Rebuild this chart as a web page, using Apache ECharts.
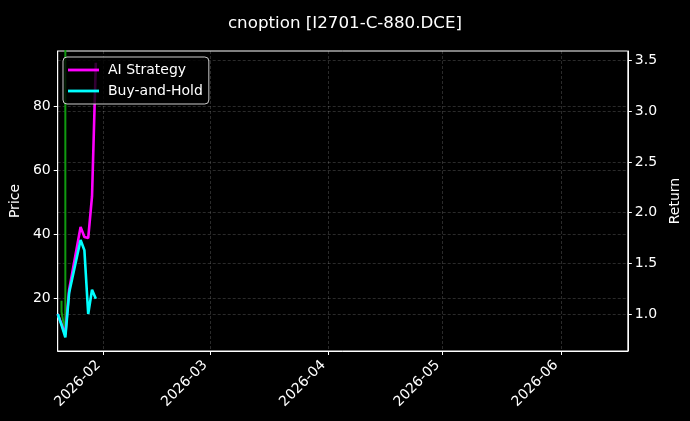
<!DOCTYPE html>
<html><head><meta charset="utf-8">
<script src="https://cdn.jsdelivr.net/npm/echarts@6/dist/echarts.min.js"></script>
<style>html,body{margin:0;padding:0;background:#000}#c{width:690px;height:421px}</style>
</head><body><div id="c"></div>
<script>
const dates = ['2026-01-20','2026-01-21','2026-01-22','2026-01-23','2026-01-26','2026-01-27','2026-01-28','2026-01-29','2026-01-30'];
const aiStrategy = [1.0, 0.90, 0.80, 1.24, 1.86, 1.76, 1.75, 2.16, 3.48];
const buyHold = [1.0, 0.89, 0.77, 1.21, 1.73, 1.63, 1.0, 1.24, 1.15];
const priceDates = ['2026-01-21','2026-01-21','2026-01-22','2026-01-22'];
const priceValues = [19.2, 15.8, 9.0, 250];
const xTickDates = ['2026-02-01','2026-03-01','2026-04-01','2026-05-01','2026-06-01'];
const xTickLabels = ['2026-02','2026-03','2026-04','2026-05','2026-06'];
const priceTicks = [20, 40, 60, 80];
const returnTicks = [1.0, 1.5, 2.0, 2.5, 3.0, 3.5];

const ts = s => Date.parse((s.length > 10 ? s : s + 'T00:00:00') + 'Z');
const xTickTs = xTickDates.map(ts);
const font = 'DejaVu Sans';
const gridLine = {show: true, lineStyle: {color: 'rgba(255,255,255,0.28)', type: [3, 2], width: 0.6}};
const tick = {show: true, length: 4, lineStyle: {color: '#fff', width: 1}};

const chart = echarts.init(document.getElementById('c'), null, {renderer: 'canvas'});
chart.setOption({
  backgroundColor: '#000',
  animation: false,
  textStyle: {fontFamily: font},
  title: {
    text: 'cnoption [I2701-C-880.DCE]', left: 'center', top: 10,
    textStyle: {color: '#fff', fontSize: 16.7, fontWeight: 'normal', fontFamily: font}
  },
  grid: {left: 57, right: 61, top: 51, bottom: 70, show: true, borderColor: '#fff', borderWidth: 1, backgroundColor: 'transparent'},
  legend: {
    data: ['AI Strategy', 'Buy-and-Hold'],
    orient: 'vertical', left: 63, top: 57,
    itemWidth: 31, itemHeight: 2.8, itemGap: 7, icon: 'rect',
    padding: [6, 6, 6, 5],
    backgroundColor: 'rgba(0,0,0,0.8)', borderColor: '#ccc', borderWidth: 1, borderRadius: 4,
    textStyle: {color: '#fff', fontSize: 14, fontFamily: font, padding: [0, 0, 0, 4]}
  },
  xAxis: {
    type: 'value',
    min: ts('2026-01-20'), max: ts('2026-06-18T14:00:00'),
    axisLine: {show: true, lineStyle: {color: '#fff'}},
    axisTick: Object.assign({customValues: xTickTs}, tick),
    splitLine: gridLine,
    axisLabel: {
      customValues: xTickTs, rotate: 45, color: '#fff', fontSize: 14, margin: 7, fontFamily: font,
      padding: [0, 7, 0, 0],
      formatter: v => { const i = xTickTs.indexOf(v); return i >= 0 ? xTickLabels[i] : ''; }
    }
  },
  yAxis: [
    {
      type: 'value', name: 'Price', nameLocation: 'middle', nameGap: 32,
      nameTextStyle: {color: '#fff', fontSize: 14, fontFamily: font},
      min: 3.5, max: 97.4, position: 'left',
      axisLine: {show: true, lineStyle: {color: '#fff'}},
      axisTick: Object.assign({customValues: priceTicks}, tick),
      splitLine: gridLine,
      axisLabel: {customValues: priceTicks, color: '#fff', fontSize: 14, margin: 7, fontFamily: font}
    },
    {
      type: 'value', name: 'Return', nameLocation: 'middle', nameGap: 38,
      nameTextStyle: {color: '#fff', fontSize: 14, fontFamily: font},
      min: 0.635, max: 3.596, position: 'right',
      axisLine: {show: true, lineStyle: {color: '#fff'}},
      axisTick: Object.assign({customValues: returnTicks}, tick),
      splitLine: gridLine,
      axisLabel: {customValues: returnTicks, color: '#fff', fontSize: 14, margin: 7, fontFamily: font,
        formatter: v => v.toFixed(1)}
    }
  ],
  series: [
    {
      name: 'Price', type: 'line', yAxisIndex: 0, z: 1, symbol: 'none', clip: true,
      data: priceDates.map((d, i) => [ts(d), priceValues[i]]),
      lineStyle: {color: '#109a10', width: 2}, itemStyle: {color: '#109a10'}
    },
    {
      name: 'AI Strategy', type: 'line', yAxisIndex: 1, z: 2, symbol: 'none', clip: true,
      data: dates.map((d, i) => [ts(d), aiStrategy[i]]),
      lineStyle: {color: '#ff00ff', width: 2.6}, itemStyle: {color: '#ff00ff'}
    },
    {
      name: 'Buy-and-Hold', type: 'line', yAxisIndex: 1, z: 3, symbol: 'none', clip: true,
      data: dates.map((d, i) => [ts(d), buyHold[i]]),
      lineStyle: {color: '#00ffff', width: 2.6}, itemStyle: {color: '#00ffff'}
    }
  ]
});
</script></body></html>
